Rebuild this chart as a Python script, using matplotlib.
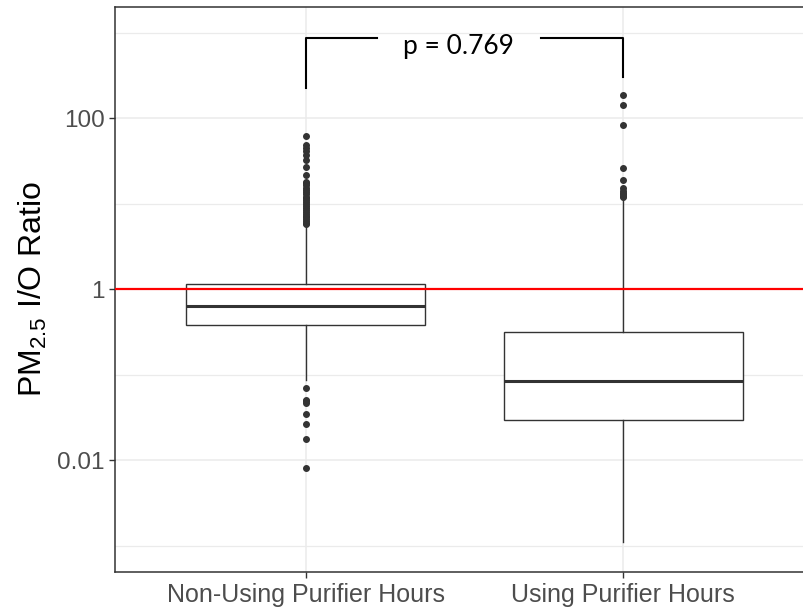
import numpy as np
import matplotlib.pyplot as plt

plt.rcParams['font.family'] = ['Liberation Sans', 'DejaVu Sans']
plt.rcParams['mathtext.default'] = 'regular'

groups = ["Non-Using Purifier Hours", "Using Purifier Hours"]
q1 = [0.388, 0.0296]
med = [0.643, 0.0847]
q3 = [1.153, 0.319]
whis_lo = [0.088, 0.0011]
whis_hi = [5.6, 11.5]
fliers_non = [5.8, 6.0, 6.3, 6.6, 7.0, 7.3, 7.7, 8.1, 8.5, 9.0, 9.5, 10.0, 10.5,
              11.0, 11.6, 12.2, 13.0, 13.8, 14.5, 15.5, 16.5, 17.5, 18.2,
              21.7, 26.7, 32.5, 37.0, 41.7, 45.7, 48.6, 62.0,
              0.0695, 0.051, 0.049, 0.047, 0.0345, 0.0266, 0.0178, 0.0081]
fliers_use = [12.0, 12.5, 13.0, 13.4, 14.0, 15.3, 19.3, 26.0, 84.4, 142.0, 188.0]
ref_line = 1
p_label = "p = 0.769"

yticks = [0.01, 1, 100]
ytick_labels = ["0.01", "1", "100"]
yminor = [0.001, 0.1, 10, 1000]

fig = plt.figure(figsize=(8.04, 6.10), dpi=100)
ax = fig.add_axes([115/804, 1 - 572.3/610, 699/804, (572.3 - 6.5)/610])

stats = []
for i, g in enumerate(groups):
    stats.append(dict(label=g, q1=q1[i], med=med[i], q3=q3[i],
                      whislo=whis_lo[i], whishi=whis_hi[i],
                      fliers=[fliers_non, fliers_use][i]))

ax.set_yscale('log')
ax.bxp(stats, positions=[0, 1], widths=0.75, showcaps=False, patch_artist=True,
       boxprops=dict(facecolor='white', edgecolor='#333333', lw=1.0),
       medianprops=dict(color='#333333', lw=2.2),
       whiskerprops=dict(color='#333333', lw=1.0),
       flierprops=dict(marker='o', markerfacecolor='#333333',
                       markeredgecolor='#333333', markersize=4))

ax.axhline(ref_line, color='red', lw=1.6, zorder=5)

# significance bracket
top = 10**2.936
ax.plot([0, 0, 0.226], [10**2.358, top, top], color='black', lw=1.5, clip_on=False)
ax.plot([0.742, 1, 1], [top, top, 10**2.487], color='black', lw=1.5, clip_on=False)
ax.text(0.48, 10**2.752, p_label, ha='center', va='baseline', fontsize=19,
        family=['Lato', 'DejaVu Sans'], color='black')

ax.set_xlim(-0.6, 1.6)
ax.set_ylim(10**-3.31, 10**3.31)
ax.set_xticks([0, 1])
ax.set_xticklabels(groups)
ax.set_yticks(yticks)
ax.set_yticklabels(ytick_labels)
ax.set_yticks(yminor, minor=True)
ax.yaxis.set_minor_formatter(plt.NullFormatter())
ax.tick_params(which='major', length=4, width=1, color='#333333',
               labelcolor='#4D4D4D', labelsize=17.5)
ax.tick_params(axis='x', labelsize=18)
ax.tick_params(which='minor', length=0)
ax.grid(which='major', color='#EBEBEB', lw=1.1)
ax.grid(which='minor', axis='y', color='#EBEBEB', lw=0.9)
ax.set_axisbelow(True)
for s in ax.spines.values():
    s.set_color('#333333')
    s.set_linewidth(1.1)

ax.set_ylabel("PM$_{2.5}$ I/O Ratio", fontsize=23, color='black', labelpad=6)

fig.savefig('out.png', dpi=100)
